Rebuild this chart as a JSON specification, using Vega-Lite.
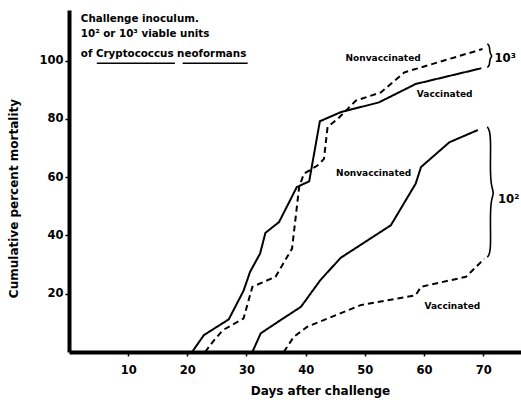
{
  "$schema": "https://vega.github.io/schema/vega-lite/v6.json",
  "width": 452,
  "height": 342,
  "autosize": {"type": "none"},
  "padding": {"left": 69, "top": 10, "right": 0, "bottom": 48},
  "background": "white",
  "config": {
    "view": {"stroke": null},
    "axis": {
      "domainColor": "black",
      "domainWidth": 4,
      "tickColor": "black",
      "tickSize": 4,
      "tickWidth": 1.5,
      "grid": false,
      "labelFont": "DejaVu Sans",
      "labelFontWeight": "bold",
      "labelFontSize": 11.5,
      "labelColor": "black",
      "titleFont": "DejaVu Sans",
      "titleFontWeight": "bold",
      "titleFontSize": 12,
      "titleColor": "black"
    }
  },
  "datasets": {
    "curves": [
      {"series": "10³ vaccinated", "day": 20.8, "mortality": 0},
      {"series": "10³ vaccinated", "day": 22.8, "mortality": 5.8},
      {"series": "10³ vaccinated", "day": 27.0, "mortality": 11.2},
      {"series": "10³ vaccinated", "day": 29.5, "mortality": 21.0},
      {"series": "10³ vaccinated", "day": 30.6, "mortality": 27.5},
      {"series": "10³ vaccinated", "day": 32.3, "mortality": 33.8},
      {"series": "10³ vaccinated", "day": 33.2, "mortality": 40.9},
      {"series": "10³ vaccinated", "day": 35.5, "mortality": 44.6},
      {"series": "10³ vaccinated", "day": 38.5, "mortality": 56.6},
      {"series": "10³ vaccinated", "day": 40.6, "mortality": 58.6},
      {"series": "10³ vaccinated", "day": 42.4, "mortality": 79.2},
      {"series": "10³ vaccinated", "day": 45.9, "mortality": 82.3},
      {"series": "10³ vaccinated", "day": 52.4, "mortality": 85.7},
      {"series": "10³ vaccinated", "day": 58.6, "mortality": 92.0},
      {"series": "10³ vaccinated", "day": 69.7, "mortality": 97.4},
      {"series": "10³ nonvaccinated", "day": 23.0, "mortality": 0},
      {"series": "10³ nonvaccinated", "day": 24.5, "mortality": 4.0},
      {"series": "10³ nonvaccinated", "day": 26.0, "mortality": 7.5},
      {"series": "10³ nonvaccinated", "day": 29.5, "mortality": 11.5},
      {"series": "10³ nonvaccinated", "day": 31.0, "mortality": 22.4},
      {"series": "10³ nonvaccinated", "day": 34.9, "mortality": 25.8},
      {"series": "10³ nonvaccinated", "day": 37.7, "mortality": 35.5},
      {"series": "10³ nonvaccinated", "day": 38.9, "mortality": 56.6},
      {"series": "10³ nonvaccinated", "day": 39.7, "mortality": 61.2},
      {"series": "10³ nonvaccinated", "day": 42.0, "mortality": 64.0},
      {"series": "10³ nonvaccinated", "day": 43.1, "mortality": 66.3},
      {"series": "10³ nonvaccinated", "day": 43.7, "mortality": 77.2},
      {"series": "10³ nonvaccinated", "day": 45.4, "mortality": 80.0},
      {"series": "10³ nonvaccinated", "day": 48.5, "mortality": 86.3},
      {"series": "10³ nonvaccinated", "day": 52.7, "mortality": 89.1},
      {"series": "10³ nonvaccinated", "day": 56.7, "mortality": 96.0},
      {"series": "10³ nonvaccinated", "day": 59.5, "mortality": 97.7},
      {"series": "10³ nonvaccinated", "day": 69.9, "mortality": 104.0},
      {"series": "10² nonvaccinated", "day": 31.0, "mortality": 0},
      {"series": "10² nonvaccinated", "day": 32.4, "mortality": 6.4},
      {"series": "10² nonvaccinated", "day": 35.8, "mortality": 11.0},
      {"series": "10² nonvaccinated", "day": 39.2, "mortality": 15.5},
      {"series": "10² nonvaccinated", "day": 42.5, "mortality": 24.7},
      {"series": "10² nonvaccinated", "day": 45.9, "mortality": 32.3},
      {"series": "10² nonvaccinated", "day": 54.4, "mortality": 43.5},
      {"series": "10² nonvaccinated", "day": 58.6, "mortality": 57.8},
      {"series": "10² nonvaccinated", "day": 59.5, "mortality": 63.5},
      {"series": "10² nonvaccinated", "day": 64.3, "mortality": 72.0},
      {"series": "10² nonvaccinated", "day": 69.1, "mortality": 76.2},
      {"series": "10² vaccinated", "day": 36.3, "mortality": 0},
      {"series": "10² vaccinated", "day": 38.0, "mortality": 5.2},
      {"series": "10² vaccinated", "day": 40.3, "mortality": 8.7},
      {"series": "10² vaccinated", "day": 43.7, "mortality": 11.5},
      {"series": "10² vaccinated", "day": 49.3, "mortality": 16.1},
      {"series": "10² vaccinated", "day": 58.6, "mortality": 19.5},
      {"series": "10² vaccinated", "day": 59.5, "mortality": 22.4},
      {"series": "10² vaccinated", "day": 67.1, "mortality": 25.8},
      {"series": "10² vaccinated", "day": 70.2, "mortality": 32.0}
    ],
    "labels": [
      {"label": "Nonvaccinated", "day": 53.1, "mortality": 101.0},
      {"label": "Vaccinated", "day": 63.5, "mortality": 88.6},
      {"label": "Nonvaccinated", "day": 51.5, "mortality": 61.5},
      {"label": "Vaccinated", "day": 64.8, "mortality": 15.9}
    ],
    "notes": [
      {"label": "Challenge  inoculum.", "day": 2.0, "mortality": 114.4},
      {"label": "10² or 10³ viable units", "day": 2.0, "mortality": 109.1},
      {"label": "of Cryptococcus  neoformans", "day": 2.0, "mortality": 102.2}
    ],
    "underlines": [
      {"day": 4.7, "day2": 17.9, "mortality": 99.1},
      {"day": 19.2, "day2": 30.2, "mortality": 99.1}
    ],
    "braces": [
      {"brace": "10³", "i": 1, "day": 70.7, "mortality": 105.8},
      {"brace": "10³", "i": 2, "day": 71.1, "mortality": 105.2},
      {"brace": "10³", "i": 3, "day": 71.1, "mortality": 102.5},
      {"brace": "10³", "i": 4, "day": 71.6, "mortality": 101.6},
      {"brace": "10³", "i": 5, "day": 71.1, "mortality": 100.8},
      {"brace": "10³", "i": 6, "day": 71.1, "mortality": 98.3},
      {"brace": "10³", "i": 7, "day": 70.7, "mortality": 97.7},
      {"brace": "10²", "i": 1, "day": 70.7, "mortality": 77.3},
      {"brace": "10²", "i": 2, "day": 71.1, "mortality": 76.2},
      {"brace": "10²", "i": 3, "day": 71.3, "mortality": 72.0},
      {"brace": "10²", "i": 4, "day": 71.2, "mortality": 64.0},
      {"brace": "10²", "i": 5, "day": 71.3, "mortality": 57.0},
      {"brace": "10²", "i": 6, "day": 71.9, "mortality": 54.6},
      {"brace": "10²", "i": 7, "day": 71.3, "mortality": 52.3},
      {"brace": "10²", "i": 8, "day": 71.2, "mortality": 45.0},
      {"brace": "10²", "i": 9, "day": 71.3, "mortality": 37.0},
      {"brace": "10²", "i": 10, "day": 71.1, "mortality": 33.5},
      {"brace": "10²", "i": 11, "day": 70.7, "mortality": 32.5}
    ],
    "dose": [
      {"label": "10³", "day": 71.9, "mortality": 101.0},
      {"label": "10²", "day": 72.5, "mortality": 52.5}
    ]
  },
  "encoding": {
    "x": {
      "field": "day",
      "type": "quantitative",
      "scale": {"domain": [0, 76.4], "nice": false, "zero": false},
      "axis": {
        "values": [10, 20, 30, 40, 50, 60, 70],
        "title": "Days after challenge",
        "labelPadding": 8,
        "titleX": 251,
        "titleY": 38,
        "titleBaseline": "middle"
      }
    },
    "y": {
      "field": "mortality",
      "type": "quantitative",
      "scale": {"domain": [0, 117.4], "nice": false, "zero": false},
      "axis": {
        "values": [20, 40, 60, 80, 100],
        "title": "Cumulative percent mortality",
        "labelPadding": 2,
        "titleX": -56,
        "titleY": 188,
        "titleBaseline": "middle"
      }
    }
  },
  "layer": [
    {
      "data": {"name": "curves"},
      "mark": {"type": "line", "color": "black", "strokeWidth": 2},
      "encoding": {
        "detail": {"field": "series", "type": "nominal"},
        "strokeDash": {
          "field": "series",
          "type": "nominal",
          "scale": {
            "domain": ["10³ vaccinated", "10³ nonvaccinated", "10² nonvaccinated", "10² vaccinated"],
            "range": [[1, 0], [6, 4], [1, 0], [6, 4]]
          },
          "legend": null
        }
      }
    },
    {
      "data": {"name": "labels"},
      "mark": {"type": "text", "font": "DejaVu Sans", "fontWeight": "bold", "fontSize": 9, "color": "black", "align": "center", "baseline": "middle"},
      "encoding": {"text": {"field": "label"}}
    },
    {
      "data": {"name": "notes"},
      "mark": {"type": "text", "font": "DejaVu Sans", "fontWeight": "bold", "fontSize": 10.3, "color": "black", "align": "left", "baseline": "middle"},
      "encoding": {"text": {"field": "label"}}
    },
    {
      "data": {"name": "underlines"},
      "mark": {"type": "rule", "color": "black", "strokeWidth": 1.5},
      "encoding": {"x2": {"field": "day2"}}
    },
    {
      "data": {"name": "braces"},
      "mark": {"type": "line", "color": "black", "strokeWidth": 1.6, "interpolate": "basis"},
      "encoding": {
        "detail": {"field": "brace", "type": "nominal"},
        "order": {"field": "i", "type": "quantitative"}
      }
    },
    {
      "data": {"name": "dose"},
      "mark": {"type": "text", "font": "DejaVu Sans Condensed", "fontWeight": "bold", "fontSize": 13, "color": "black", "align": "left", "baseline": "middle"},
      "encoding": {"text": {"field": "label"}}
    }
  ]
}
